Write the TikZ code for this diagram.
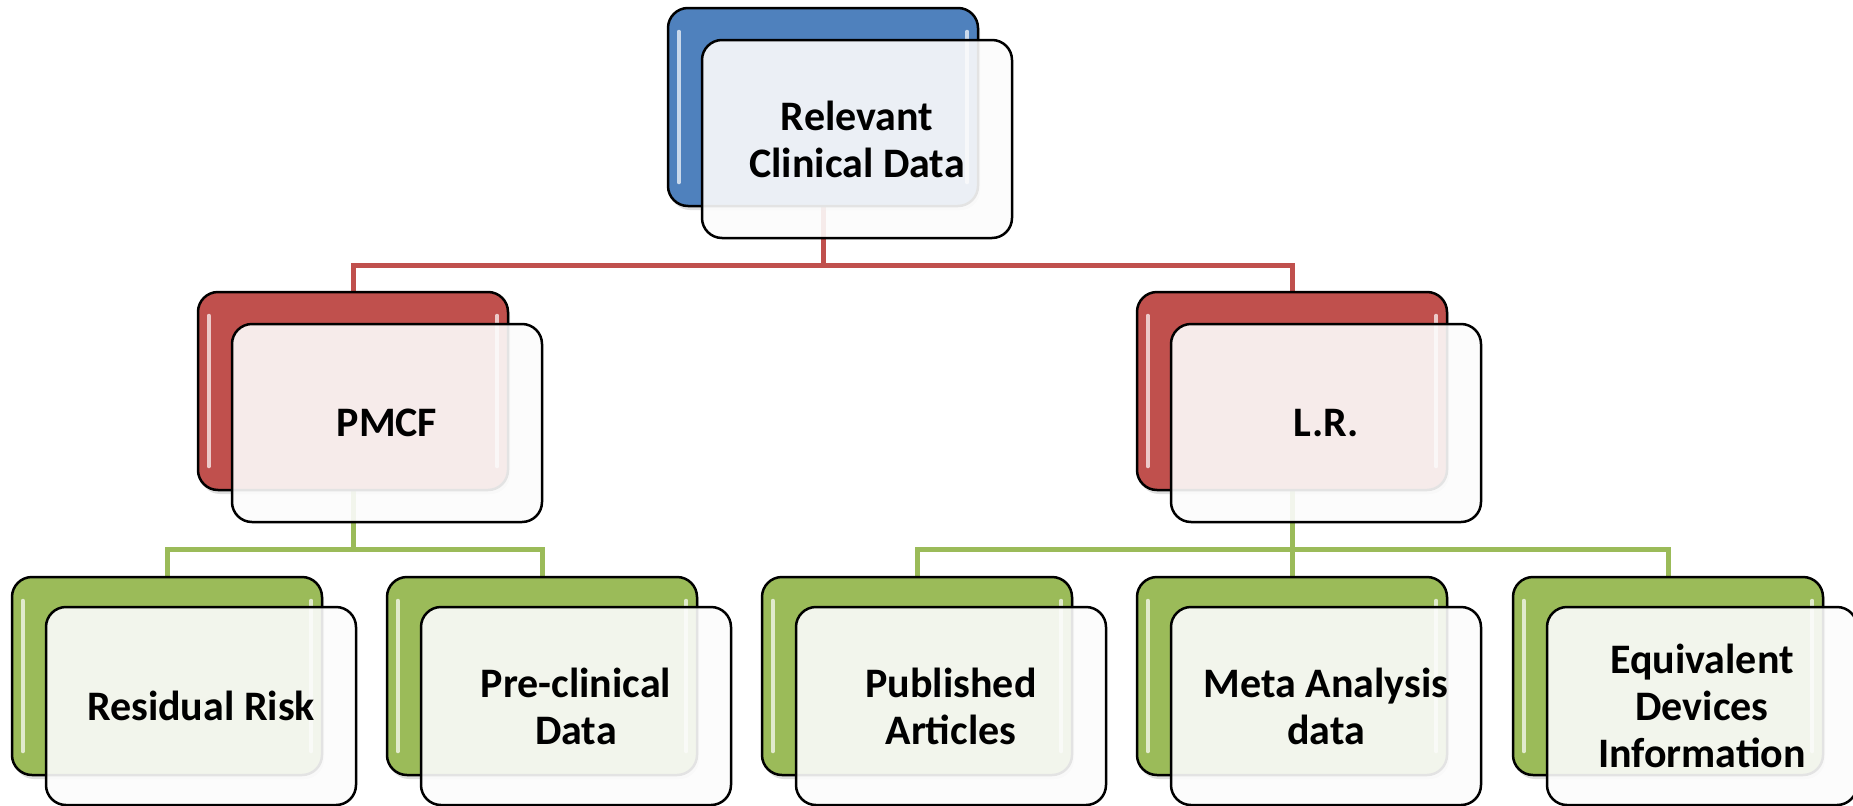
\documentclass[tikz,border=0pt]{standalone}
\usepackage{fontspec}
\setmainfont{Carlito}
\usetikzlibrary{calc,shadows}
\definecolor{accBlue}{HTML}{4F81BD}
\definecolor{accRed}{HTML}{C0504D}
\definecolor{accGreen}{HTML}{9BBB59}
\pgfdeclarelayer{bg}
\pgfsetlayers{bg,main}
\tikzset{
  backbox/.style={draw=black, line width=2.5pt, rounded corners=20pt,
    minimum width=310pt, minimum height=198pt, inner sep=0pt,
    drop shadow={opacity=0.25, shadow xshift=2pt, shadow yshift=-4pt}},
  frontbox/.style={draw=black, line width=2.5pt, rounded corners=20pt,
    minimum width=310pt, minimum height=198pt, inner sep=0pt,
    fill=white!99!black, fill opacity=0.9, text opacity=1, align=center,
    font=\bfseries\fontsize{42}{47}\selectfont},
  redlink/.style={draw=accRed, line width=5pt},
  greenlink/.style={draw=accGreen, line width=5pt},
  gloss/.style={draw=white, line width=4pt, line cap=round, opacity=0.7},
}
\begin{document}
\begin{tikzpicture}[x=1pt, y=-1pt]
\useasboundingbox (0,0) rectangle (1853,806);

% back (coloured) boxes
\node[backbox, fill=accBlue]  (rcdB)  at (823,107) {};
\node[backbox, fill=accRed]   (pmcfB) at (353,391) {};
\node[backbox, fill=accRed]   (lrB)   at (1292,391) {};
\node[backbox, fill=accGreen] (rrB)   at (167,676) {};
\node[backbox, fill=accGreen] (pcB)   at (542,676) {};
\node[backbox, fill=accGreen] (paB)   at (917,676) {};
\node[backbox, fill=accGreen] (maB)   at (1292,676) {};
\node[backbox, fill=accGreen] (edB)   at (1668,676) {};

% glossy highlights along the side edges
\foreach \n in {rcdB,pmcfB,lrB,rrB,pcB,paB,maB,edB}{
  \draw[gloss] ($(\n.north west)+(12,25)$) -- ($(\n.south west)+(12,-25)$);
  \draw[gloss] ($(\n.north east)+(-12,25)$) -- ($(\n.south east)+(-12,-25)$);
}

% connectors behind the boxes
\coordinate (j0) at ($(rcdB.south)+(0,58)$);
\coordinate (j1) at ($(pmcfB.south)+(0,58)$);
\coordinate (j2) at ($(lrB.south)+(0,58)$);
\begin{pgfonlayer}{bg}
  \draw[redlink] (rcdB.south) -- (j0);
  \draw[redlink] (j0) -| (pmcfB.north);
  \draw[redlink] (j0) -| (lrB.north);
  \draw[greenlink] (pmcfB.south) -- (j1);
  \draw[greenlink] (j1) -| (rrB.north);
  \draw[greenlink] (j1) -| (pcB.north);
  \draw[greenlink] (lrB.south) -- (j2);
  \draw[greenlink] (j2) -| (paB.north);
  \draw[greenlink] (j2) -| (maB.north);
  \draw[greenlink] (j2) -| (edB.north);
\end{pgfonlayer}

% front (text) boxes
\node[frontbox] (rcd)  at (857,139)  {Relevant\\Clinical Data};
\node[frontbox] (pmcf) at (387,423)  {PMCF};
\node[frontbox] (lr)   at (1326,423) {L.R.};
\node[frontbox] (rr)   at (201,706)  {Residual Risk};
\node[frontbox] (pc)   at (576,706)  {Pre-clinical\\Data};
\node[frontbox] (pa)   at (951,706)  {Published\\Articles};
\node[frontbox] (ma)   at (1326,706) {Meta Analysis\\data};
\node[frontbox] (ed)   at (1702,706) {Equivalent\\Devices\\Information};
\end{tikzpicture}
\end{document}
